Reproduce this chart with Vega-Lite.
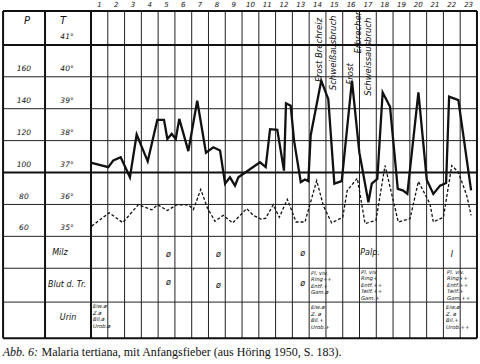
{
  "$schema": "https://vega.github.io/schema/vega-lite/v6.json",
  "width": 480,
  "height": 364,
  "autosize": {"type": "fit", "contains": "padding"},
  "padding": 0,
  "background": "#ffffff",
  "view": {"stroke": null},
  "config": {"text": {"font": "DejaVu Sans", "fontStyle": "italic", "fill": "#111"}},
  "datasets": {
    "vthin": [
      {"x": 1, "y": 31.81, "y2": 42.06}, {"x": 2, "y": 31.81, "y2": 42.06}, {"x": 3, "y": 31.81, "y2": 42.06},
      {"x": 4, "y": 31.81, "y2": 42.06}, {"x": 5, "y": 31.81, "y2": 42.06}, {"x": 6, "y": 31.81, "y2": 42.06},
      {"x": 7, "y": 31.81, "y2": 42.06}, {"x": 8, "y": 31.81, "y2": 42.06}, {"x": 9, "y": 31.81, "y2": 42.06},
      {"x": 10, "y": 31.81, "y2": 42.06}, {"x": 11, "y": 31.81, "y2": 42.06}, {"x": 12, "y": 31.81, "y2": 42.06},
      {"x": 13, "y": 31.81, "y2": 42.06}, {"x": 14, "y": 31.81, "y2": 42.06}, {"x": 15, "y": 31.81, "y2": 42.06},
      {"x": 16, "y": 31.81, "y2": 42.06}, {"x": 17, "y": 31.81, "y2": 42.06}, {"x": 18, "y": 31.81, "y2": 42.06},
      {"x": 19, "y": 31.81, "y2": 42.06}, {"x": 20, "y": 31.81, "y2": 42.06}, {"x": 21, "y": 31.81, "y2": 42.06},
      {"x": 22, "y": 31.81, "y2": 42.06}
    ],
    "vthick": [
      {"x": -5.24, "y": 31.81, "y2": 42.06}, {"x": -2.74, "y": 31.81, "y2": 42.06},
      {"x": 0, "y": 31.81, "y2": 42.06}, {"x": 23, "y": 31.81, "y2": 42.06}
    ],
    "hthin": [
      {"y": 40, "x": -5.24, "x2": 23}, {"y": 39, "x": -5.24, "x2": 23}, {"y": 38, "x": -5.24, "x2": 23},
      {"y": 36, "x": -5.24, "x2": 23}, {"y": 35, "x": -5.24, "x2": 23}, {"y": 34, "x": -5.24, "x2": 23},
      {"y": 32.94, "x": -5.24, "x2": 23}
    ],
    "hthick": [
      {"y": 42.06, "x": -5.24, "x2": 23}, {"y": 41, "x": -5.24, "x2": 23},
      {"y": 37, "x": -5.24, "x2": 23}, {"y": 31.81, "x": -5.24, "x2": 23}
    ],
    "temp": [
      {"x": 0.04, "y": 37.30}, {"x": 1.03, "y": 37.17}, {"x": 1.33, "y": 37.38}, {"x": 1.77, "y": 37.48},
      {"x": 2.32, "y": 36.85}, {"x": 2.72, "y": 38.19}, {"x": 3.38, "y": 37.35}, {"x": 3.95, "y": 38.65},
      {"x": 4.35, "y": 38.65}, {"x": 4.55, "y": 38.05}, {"x": 4.81, "y": 38.21}, {"x": 5.05, "y": 38.05},
      {"x": 5.26, "y": 38.68}, {"x": 5.80, "y": 37.67}, {"x": 6.33, "y": 39.25}, {"x": 6.85, "y": 37.62},
      {"x": 7.29, "y": 37.79}, {"x": 7.69, "y": 37.69}, {"x": 7.99, "y": 36.65}, {"x": 8.28, "y": 36.85},
      {"x": 8.58, "y": 36.59}, {"x": 8.78, "y": 36.85}, {"x": 10.07, "y": 37.32}, {"x": 10.41, "y": 37.17},
      {"x": 10.67, "y": 38.36}, {"x": 11.10, "y": 38.34}, {"x": 11.50, "y": 37.06}, {"x": 11.62, "y": 39.17},
      {"x": 11.90, "y": 39.09}, {"x": 12.10, "y": 38.0}, {"x": 12.50, "y": 36.70}, {"x": 12.75, "y": 36.78},
      {"x": 12.95, "y": 36.73}, {"x": 13.09, "y": 38.16}, {"x": 13.72, "y": 39.88}, {"x": 14.14, "y": 39.30},
      {"x": 14.50, "y": 36.65}, {"x": 14.94, "y": 36.73}, {"x": 15.55, "y": 39.88}, {"x": 15.99, "y": 37.63},
      {"x": 16.53, "y": 36.07}, {"x": 16.73, "y": 36.65}, {"x": 17.06, "y": 36.80}, {"x": 17.38, "y": 39.51},
      {"x": 17.82, "y": 39.06}, {"x": 18.28, "y": 36.49}, {"x": 18.58, "y": 36.44}, {"x": 18.85, "y": 36.33},
      {"x": 19.51, "y": 39.51}, {"x": 20.01, "y": 36.77}, {"x": 20.40, "y": 36.33}, {"x": 20.80, "y": 36.59},
      {"x": 21.16, "y": 36.67}, {"x": 21.34, "y": 39.38}, {"x": 21.89, "y": 39.27}, {"x": 22.65, "y": 36.44}
    ],
    "pulse": [
      {"x": 0.04, "y": 35.32}, {"x": 1.09, "y": 35.74}, {"x": 1.89, "y": 35.43}, {"x": 2.82, "y": 35.99},
      {"x": 3.62, "y": 35.83}, {"x": 3.97, "y": 35.99}, {"x": 4.55, "y": 35.81}, {"x": 5.11, "y": 35.99},
      {"x": 5.80, "y": 35.99}, {"x": 6.10, "y": 35.84}, {"x": 6.54, "y": 36.47}, {"x": 6.93, "y": 35.90},
      {"x": 7.39, "y": 35.47}, {"x": 7.88, "y": 35.66}, {"x": 8.44, "y": 35.42}, {"x": 9.28, "y": 35.87},
      {"x": 9.67, "y": 35.66}, {"x": 10.17, "y": 35.53}, {"x": 10.41, "y": 35.57}, {"x": 10.86, "y": 35.99},
      {"x": 11.22, "y": 35.60}, {"x": 11.70, "y": 36.16}, {"x": 12.22, "y": 35.45}, {"x": 12.75, "y": 35.45},
      {"x": 13.45, "y": 36.75}, {"x": 13.84, "y": 35.97}, {"x": 14.34, "y": 35.42}, {"x": 15.0, "y": 35.60},
      {"x": 15.27, "y": 36.44}, {"x": 15.87, "y": 36.82}, {"x": 16.33, "y": 35.40}, {"x": 16.98, "y": 35.50},
      {"x": 17.52, "y": 37.22}, {"x": 18.31, "y": 35.45}, {"x": 19.01, "y": 35.55}, {"x": 19.51, "y": 36.72},
      {"x": 20.20, "y": 36.02}, {"x": 20.40, "y": 35.45}, {"x": 21.0, "y": 35.60}, {"x": 21.50, "y": 37.22},
      {"x": 21.89, "y": 37.01}, {"x": 22.39, "y": 36.28}, {"x": 22.65, "y": 35.66}
    ],
    "days": [
      {"x": 0.5, "y": 42.25, "label": "1"}, {"x": 1.5, "y": 42.25, "label": "2"}, {"x": 2.5, "y": 42.25, "label": "3"},
      {"x": 3.5, "y": 42.25, "label": "4"}, {"x": 4.5, "y": 42.25, "label": "5"}, {"x": 5.5, "y": 42.25, "label": "6"},
      {"x": 6.5, "y": 42.25, "label": "7"}, {"x": 7.5, "y": 42.25, "label": "8"}, {"x": 8.5, "y": 42.25, "label": "9"},
      {"x": 9.5, "y": 42.25, "label": "10"}, {"x": 10.5, "y": 42.25, "label": "11"}, {"x": 11.5, "y": 42.25, "label": "12"},
      {"x": 12.5, "y": 42.25, "label": "13"}, {"x": 13.5, "y": 42.25, "label": "14"}, {"x": 14.5, "y": 42.25, "label": "15"},
      {"x": 15.5, "y": 42.25, "label": "16"}, {"x": 16.5, "y": 42.25, "label": "17"}, {"x": 17.5, "y": 42.25, "label": "18"},
      {"x": 18.5, "y": 42.25, "label": "19"}, {"x": 19.5, "y": 42.25, "label": "20"}, {"x": 20.5, "y": 42.25, "label": "21"},
      {"x": 21.5, "y": 42.25, "label": "22"}, {"x": 22.5, "y": 42.25, "label": "23"}
    ],
    "header": [
      {"x": -3.81, "y": 41.75, "label": "P"}, {"x": -1.67, "y": 41.75, "label": "T"}
    ],
    "scalelabels": [
      {"x": -1.43, "y": 41.26, "label": "41°"},
      {"x": -1.43, "y": 40.25, "label": "40°"}, {"x": -1.43, "y": 39.25, "label": "39°"},
      {"x": -1.43, "y": 38.25, "label": "38°"}, {"x": -1.43, "y": 37.25, "label": "37°"},
      {"x": -1.43, "y": 36.22, "label": "36°"}, {"x": -1.43, "y": 35.25, "label": "35°"},
      {"x": -4.0, "y": 40.25, "label": "160"}, {"x": -4.0, "y": 39.25, "label": "140"},
      {"x": -4.0, "y": 38.25, "label": "120"}, {"x": -4.0, "y": 37.25, "label": "100"},
      {"x": -4.0, "y": 36.22, "label": "80"}, {"x": -4.0, "y": 35.25, "label": "60"}
    ],
    "rowlabels": [
      {"x": -1.85, "y": 34.47, "label": "Milz"},
      {"x": -1.43, "y": 33.47, "label": "Blut d. Tr."},
      {"x": -1.37, "y": 32.44, "label": "Urin"}
    ],
    "marks": [
      {"x": 4.61, "y": 34.41, "label": "ø"}, {"x": 7.59, "y": 34.41, "label": "ø"}, {"x": 12.62, "y": 34.44, "label": "ø"},
      {"x": 4.61, "y": 33.53, "label": "ø"}, {"x": 7.59, "y": 33.44, "label": "ø"}, {"x": 12.62, "y": 33.50, "label": "ø"},
      {"x": 16.63, "y": 34.47, "label": "Palp."}, {"x": 21.51, "y": 34.41, "label": "I"}
    ],
    "notes": [
      {"x": 13.11, "y": 33.92, "label": "Pl. viv.\nRing++\nEntf.+\nGam.ø"},
      {"x": 16.09, "y": 33.95, "label": "Pl. viv\nRing+\nEntf.++\nTeilf.++\nGam.+"},
      {"x": 21.22, "y": 33.95, "label": "Pl. viv.\nRing++\nEntf.++\nTeilf.+\nGam.++"},
      {"x": 0.12, "y": 32.88, "label": "Eiw.ø\nZ.ø\nBil.ø\nUrob.ø"},
      {"x": 13.11, "y": 32.84, "label": "Eiw.ø\nZ. ø\nBil.+\nUrob.+"},
      {"x": 21.16, "y": 32.84, "label": "Eiw.ø\nZ. ø\nBil.+\nUrob.++"}
    ],
    "events": [
      {"x": 13.59, "y": 40.84, "label": "Frost Brechreiz"},
      {"x": 14.42, "y": 40.75, "label": "Schweißausbruch"},
      {"x": 15.43, "y": 40.09, "label": "Frost"},
      {"x": 15.91, "y": 41.41, "label": "Erbrechen"},
      {"x": 16.51, "y": 40.63, "label": "Schweissausbruch"}
    ],
    "caption1": [{"x": -5.26, "y": 31.375, "label": "Abb. 6:"}],
    "caption2": [{"x": -2.95, "y": 31.375, "label": "Malaria tertiana, mit Anfangsfieber (aus Höring 1950, S. 183)."}]
  },
  "encoding": {
    "x": {"field": "x", "type": "quantitative", "axis": null, "scale": {"domain": [-5.423, 23.18], "nice": false, "zero": false}},
    "y": {"field": "y", "type": "quantitative", "axis": null, "scale": {"domain": [31.0, 42.375], "nice": false, "zero": false}}
  },
  "layer": [
    {"data": {"name": "vthin"}, "mark": {"type": "rule", "stroke": "#222", "strokeWidth": 1}, "encoding": {"y2": {"field": "y2"}}},
    {"data": {"name": "vthick"}, "mark": {"type": "rule", "stroke": "#111", "strokeWidth": 2}, "encoding": {"y2": {"field": "y2"}}},
    {"data": {"name": "hthin"}, "mark": {"type": "rule", "stroke": "#222", "strokeWidth": 1}, "encoding": {"x2": {"field": "x2"}}},
    {"data": {"name": "hthick"}, "mark": {"type": "rule", "stroke": "#111", "strokeWidth": 2}, "encoding": {"x2": {"field": "x2"}}},
    {"data": {"name": "pulse"}, "mark": {"type": "line", "stroke": "#111", "strokeWidth": 1.3, "strokeDash": [3, 2]}, "encoding": {}},
    {"data": {"name": "temp"}, "mark": {"type": "line", "stroke": "#111", "strokeWidth": 2.3, "strokeJoin": "miter"}, "encoding": {}},
    {"data": {"name": "days"}, "mark": {"type": "text", "fill": "#111", "fontSize": 7, "align": "center", "baseline": "middle"}, "encoding": {"text": {"field": "label"}}},
    {"data": {"name": "header"}, "mark": {"type": "text", "fill": "#111", "fontSize": 10, "align": "center", "baseline": "middle"}, "encoding": {"text": {"field": "label"}}},
    {"data": {"name": "scalelabels"}, "mark": {"type": "text", "fill": "#111", "fontSize": 7.5, "align": "center", "baseline": "middle"}, "encoding": {"text": {"field": "label"}}},
    {"data": {"name": "rowlabels"}, "mark": {"type": "text", "fill": "#111", "fontSize": 8, "align": "center", "baseline": "middle"}, "encoding": {"text": {"field": "label"}}},
    {"data": {"name": "marks"}, "mark": {"type": "text", "fill": "#111", "fontSize": 8, "align": "center", "baseline": "middle"}, "encoding": {"text": {"field": "label"}}},
    {"data": {"name": "notes"}, "mark": {"type": "text", "fill": "#111", "fontSize": 5.3, "align": "left", "baseline": "top", "lineBreak": "\n", "lineHeight": 6.5}, "encoding": {"text": {"field": "label"}}},
    {"data": {"name": "events"}, "mark": {"type": "text", "fill": "#111", "fontSize": 8.5, "align": "center", "baseline": "middle", "angle": 270}, "encoding": {"text": {"field": "label"}}},
    {"data": {"name": "caption1"}, "mark": {"type": "text", "fill": "#111", "font": "Liberation Serif", "fontStyle": "italic", "fontSize": 12, "align": "left", "baseline": "middle"}, "encoding": {"text": {"field": "label"}}},
    {"data": {"name": "caption2"}, "mark": {"type": "text", "fill": "#111", "font": "Liberation Serif", "fontStyle": "normal", "fontSize": 12, "align": "left", "baseline": "middle"}, "encoding": {"text": {"field": "label"}}}
  ]
}
